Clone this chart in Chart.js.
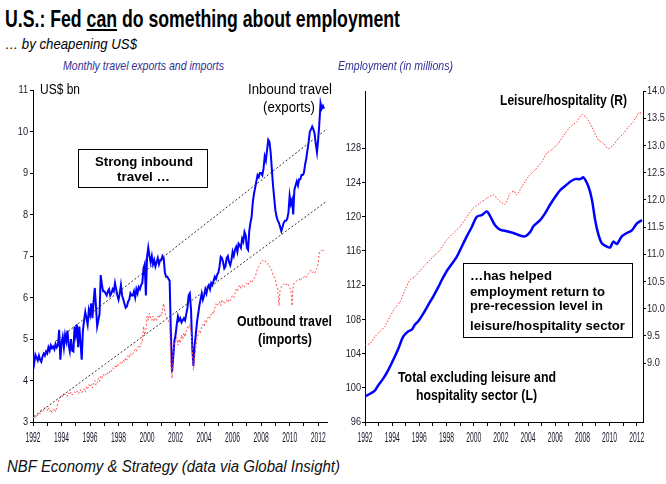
<!DOCTYPE html>
<html><head><meta charset="utf-8">
<script src="https://cdn.jsdelivr.net/npm/chart.js@4.4.0/dist/chart.umd.min.js"></script>
<style>
body{margin:0;width:666px;height:484px;background:#fff;position:relative;overflow:hidden;font-family:'Liberation Sans',Arial,sans-serif;color:#000;}
.t{position:absolute;white-space:nowrap;line-height:1;transform-origin:0 0;}
.n{font-family:'Liberation Sans Narrow','Liberation Sans',Arial,sans-serif;}
.b{font-weight:bold;}
.i{font-style:italic;}
.blue{color:#303096;}
canvas{position:absolute;}
.box{position:absolute;border:1.5px solid #000;box-sizing:border-box;}
</style></head><body>
<canvas id="c1" width="345" height="370" style="left:0px;top:80px"></canvas>
<canvas id="c2" width="326" height="370" style="left:340px;top:80px"></canvas>

<div class="t b" data-w="395" style="left:5px;top:7px;font-size:24px;">U.S.: Fed <u>can</u> do something about employment</div>
<div class="t i" data-w="132" style="left:5px;top:36.5px;font-size:14px;">… by cheapening US$</div>
<div class="t i n blue" data-w="161" style="left:63px;top:59px;font-size:13.5px;">Monthly travel exports and imports</div>
<div class="t i n blue" data-w="115" style="left:338px;top:59px;font-size:13.5px;">Employment (in millions)</div>
<div class="t i" data-w="333" style="left:7px;top:458.5px;font-size:16px;color:#111;">NBF Economy &amp; Strategy (data via Global Insight)</div>

<div class="t n" data-w="40" style="left:40px;top:82px;font-size:14px;">US$ bn</div>
<div class="t n" data-w="84" data-c="290" style="top:81.5px;font-size:14px;">Inbound travel</div>
<div class="t n" data-w="52" data-c="289" style="top:99.5px;font-size:14px;">(exports)</div>
<div class="box" style="left:78px;top:149px;width:130px;height:39px;"></div>
<div class="t b" data-w="98" data-c="144" style="top:155px;font-size:13px;">Strong inbound</div>
<div class="t b" data-w="53" data-c="143.5" style="top:170px;font-size:13px;">travel …</div>
<div class="t n b" data-w="95" data-c="284.5" style="top:313px;font-size:15px;">Outbound travel</div>
<div class="t n b" data-w="54" data-c="285" style="top:331px;font-size:15px;">(imports)</div>

<div class="t n b" data-w="127" style="left:500px;top:92px;font-size:15px;">Leisure/hospitality (R)</div>
<div class="box" style="left:463px;top:263px;width:170px;height:75px;"></div>
<div class="t b" data-w="82" style="left:470px;top:269.2px;font-size:13px;">…has helped</div>
<div class="t b" data-w="135" style="left:470px;top:284.5px;font-size:13px;">employment return to</div>
<div class="t b" data-w="133" style="left:470px;top:298.5px;font-size:13px;">pre-recession level in</div>
<div class="t b" data-w="155" style="left:470px;top:319.2px;font-size:13px;">leisure/hospitality sector</div>
<div class="t n b" data-w="158" style="left:398px;top:370px;font-size:14px;">Total excluding leisure and</div>
<div class="t n b" data-w="121" style="left:416px;top:388px;font-size:14px;">hospitality sector (L)</div>

<script>
// ---------- DATA ----------
const travelStartYear = 1992; // monthly series starting Jan 1992
const inboundTravel = [
4.6,4.42,4.62,4.55,4.48,4.6,4.5,4.45,4.58,4.65,4.6,4.7,
4.65,4.8,4.72,4.85,4.78,4.82,4.75,4.88,4.8,4.85,5.22,4.5,
4.9,5.05,4.8,5.1,4.95,5.2,4.85,4.7,5.0,4.72,4.7,5.3,
5.1,5.35,4.8,5.3,4.9,4.5,5.2,5.45,5.65,5.5,5.35,5.7,
5.58,5.86,5.5,5.9,6.23,5.78,5.3,5.45,5.6,6.54,6.3,6.15,
6.15,6.1,6.05,6.15,6.2,6.05,6.1,6.2,6.15,6.35,6.2,6.05,
5.95,6.1,6.3,6.05,5.95,5.85,5.75,5.78,5.9,5.95,6.1,6.05,
6.05,6.15,6.0,6.2,6.1,6.25,6.2,6.3,6.35,6.7,6.8,6.05,
6.98,7.2,7.0,6.85,7.0,6.8,6.9,6.75,6.85,6.95,6.8,6.9,
6.9,7.0,6.95,6.6,6.5,6.5,6.45,6.4,5.2,4.2,4.55,4.95,
5.1,5.35,5.55,5.45,5.5,5.4,5.45,5.5,5.45,5.6,5.75,6.05,
6.1,5.7,4.8,4.35,4.85,5.1,5.4,5.6,5.8,5.95,6.1,5.95,
6.05,6.2,6.1,6.25,6.3,6.2,6.35,6.3,6.4,6.5,6.45,6.55,
6.6,6.75,6.98,6.95,6.85,6.7,6.75,6.95,7.0,6.85,6.78,6.9,
7.1,7.0,7.15,7.22,7.1,7.3,7.26,7.2,7.42,7.35,7.58,7.5,
7.2,7.15,7.6,7.8,7.95,8.3,8.5,8.65,8.8,8.95,8.9,9.0,
9.0,8.95,9.1,9.4,9.3,9.55,9.8,9.75,9.5,9.1,8.7,8.4,
8.1,7.95,7.85,7.8,7.7,7.6,7.7,7.8,7.85,7.85,7.9,8.05,
8.45,8.25,8.35,8.0,8.6,8.7,8.8,8.7,8.85,8.85,8.95,8.95,
9.0,9.2,9.35,9.55,9.75,10.0,10.05,10.12,10.05,9.95,9.7,9.5,
9.8,10.2,10.68,10.55,10.62,10.55
];
const outboundTravel = [
3.08,3.12,3.1,3.18,3.15,3.22,3.2,3.3,3.25,3.28,3.35,3.3,
3.28,3.35,3.25,3.3,3.22,3.28,3.32,3.25,3.35,3.45,3.55,3.6,
3.65,3.6,3.7,3.65,3.68,3.62,3.7,3.66,3.72,3.65,3.7,3.72,
3.7,3.75,3.68,3.72,3.78,3.7,3.75,3.8,3.72,3.85,3.8,3.9,
3.85,3.9,3.82,3.95,4.0,3.88,3.95,4.05,3.98,4.1,4.05,4.15,
4.1,4.15,4.12,4.2,4.18,4.25,4.22,4.3,4.28,4.35,4.3,4.4,
4.35,4.4,4.45,4.42,4.5,4.45,4.55,4.5,4.6,4.55,4.65,4.6,
4.65,4.7,4.75,4.7,4.8,4.85,4.8,4.9,4.95,5.3,5.1,5.2,
5.55,5.45,5.62,5.5,5.45,5.55,5.42,5.5,5.45,5.55,5.5,5.6,
5.55,5.7,5.85,5.65,5.55,5.5,5.45,5.35,4.45,4.05,4.7,4.9,
4.95,5.05,4.85,5.0,4.9,5.1,5.0,5.15,5.05,5.2,5.3,5.25,
5.35,5.2,4.8,4.25,4.55,4.8,5.0,5.1,5.2,5.15,5.3,5.35,
5.3,5.45,5.4,5.5,5.55,5.5,5.6,5.65,5.6,5.75,5.85,5.8,
5.85,5.9,5.8,5.95,5.9,5.85,5.9,5.95,5.88,5.95,5.92,6.0,
6.05,6.0,6.1,6.2,6.15,6.25,6.3,6.22,6.28,6.3,6.25,6.32,
6.35,6.3,6.38,6.4,6.35,6.42,6.45,6.5,6.6,6.7,6.75,6.8,
6.85,6.9,6.88,6.9,6.85,6.8,6.82,6.75,6.7,6.65,6.55,6.5,
6.45,6.3,6.2,5.8,6.2,6.25,6.3,6.32,6.35,6.3,6.34,6.3,
6.22,6.2,5.8,6.3,6.35,6.38,6.4,6.42,6.45,6.4,6.46,6.45,
6.5,6.52,6.48,6.55,6.58,6.6,6.66,6.6,6.62,6.58,6.65,6.7,
6.82,7.1,7.12,7.14,7.1,7.14
];
const trendUpperYears = [1993.6, 2012.75];
const trendUpperValues = [4.95, 10.1];
const trendLowerYears = [1992.05, 2012.72];
const trendLowerValues = [3.13, 8.35];

const totalExLeisureYears = [1992.0,1992.37,1992.74,1992.98,1993.35,1993.72,1994.09,1994.46,1994.82,1995.19,1995.44,1995.68,1995.93,1996.3,1996.66,1997.03,1997.4,1997.65,1998.0,1998.4,1998.75,1999.0,1999.49,1999.86,2000.23,2000.6,2000.96,2001.2,2001.57,2001.94,2002.43,2002.92,2003.4,2003.78,2004.15,2004.4,2004.89,2005.25,2005.62,2005.99,2006.36,2006.73,2007.1,2007.46,2007.83,2008.08,2008.45,2008.7,2008.94,2009.18,2009.43,2009.8,2010.04,2010.28,2010.53,2010.9,2011.27,2011.64,2012.0,2012.38];
const totalExLeisure = [99.0,99.3,99.7,100.3,101.1,102.1,103.3,104.6,106.0,106.6,106.8,107.4,107.8,108.7,109.7,110.7,111.8,112.6,113.6,114.5,115.3,116.1,117.7,118.8,120.0,120.2,120.6,120.1,119.0,118.5,118.3,118.1,117.8,117.7,118.2,118.9,119.6,120.4,121.4,122.3,123.1,123.6,124.1,124.4,124.4,124.6,123.5,122.0,119.6,117.9,116.9,116.5,116.4,117.1,116.8,117.7,118.1,118.4,119.2,119.6];
const leisureYears = [1992.0,1992.37,1992.74,1993.1,1993.47,1993.84,1994.2,1994.58,1994.95,1995.3,1995.68,1996.05,1996.42,1996.79,1997.15,1997.5,1998.0,1998.5,1999.0,1999.49,1999.97,2000.47,2000.96,2001.45,2001.8,2002.31,2002.68,2002.97,2003.17,2003.54,2004.03,2004.52,2005.01,2005.38,2005.75,2006.23,2006.73,2007.1,2007.59,2007.96,2008.33,2008.7,2009.18,2009.55,2009.9,2010.28,2010.65,2011.02,2011.39,2011.76,2012.13,2012.38];
const leisureHospitality = [9.34,9.36,9.49,9.58,9.68,9.86,10.01,10.13,10.35,10.53,10.59,10.70,10.8,10.9,10.99,11.07,11.26,11.39,11.51,11.69,11.85,11.94,12.03,12.09,12.0,11.92,12.12,12.16,12.09,12.24,12.43,12.55,12.70,12.86,12.92,13.04,13.22,13.34,13.44,13.57,13.5,13.34,13.1,13.04,12.94,13.01,13.13,13.22,13.34,13.44,13.59,13.6];

const travelYTicks = [3,4,5,6,7,8,9,10,11];
const empLeftTickMax = 128;
const empRightTickMin = 9.0;
// ---------- END DATA ----------

// text fitting
document.querySelectorAll('.t[data-w]').forEach(el => {
  const w = +el.dataset.w;
  const r = el.getBoundingClientRect().width;
  if (el.dataset.c) el.style.left = (+el.dataset.c - w / 2) + 'px';
  el.style.transform = 'scaleX(' + (w / r) + ')';
});

const monthly = arr => arr.map((v, i) => ({x: travelStartYear + i / 12, y: v}));
const pairs = (xs, ys) => xs.map((x, i) => ({x: x, y: ys[i]}));

// horizontally condensed tick labels (the original uses very narrow digits)
const squeeze = {x: 0.45, y: 0.8};
const squeezePlugin = {
  id: 'squeeze',
  beforeDraw(chart) {
    Object.values(chart.scales).forEach(scale => {
      if (scale._sqz) return;
      scale._sqz = true;
      const sx = scale.axis === 'x' ? squeeze.x : squeeze.y;
      const od = scale.drawLabels.bind(scale);
      scale.drawLabels = function (area) {
        const ctx = chart.ctx;
        const of = CanvasRenderingContext2D.prototype.fillText;
        ctx.fillText = function (t, x, y, mw) {
          this.save(); this.scale(sx, 1);
          if (mw == null) of.call(this, t, x / sx, y); else of.call(this, t, x / sx, y, mw / sx);
          this.restore();
        };
        try { od(area); } finally { delete ctx.fillText; }
      };
    });
  }
};

const xFont = {family: "'Liberation Sans',Arial,sans-serif", size: 15};
const yFont = {family: "'Liberation Sans',Arial,sans-serif", size: 11.5};
const tickColor = '#1a1a2a';
const gridTicksOnly = (len) => ({display: true, drawOnChartArea: false, drawTicks: true, tickLength: len, color: '#000', lineWidth: 1});
const border = {display: true, color: '#000', width: 1};

const xScale = (max) => ({
  type: 'linear', min: 1992, max: max,
  border: border, grid: gridTicksOnly(4),
  ticks: {stepSize: 1, autoSkip: false, maxRotation: 0, minRotation: 0, includeBounds: false, padding: 3,
    font: xFont, color: tickColor,
    callback: v => (Math.round(v) % 2 === 0 ? String(Math.round(v)) : '')},
  afterFit: s => { s.height = 28; }
});

const commonOpts = {
  responsive: false, animation: false, devicePixelRatio: 1,
  plugins: {legend: {display: false}, tooltip: {enabled: false}},
  elements: {point: {radius: 0}},
};

new Chart(document.getElementById('c1'), {
  type: 'line',
  plugins: [squeezePlugin],
  data: {datasets: [
    {data: pairs(trendUpperYears, trendUpperValues), borderColor: '#333', borderWidth: 1, borderDash: [2, 2], fill: false},
    {data: pairs(trendLowerYears, trendLowerValues), borderColor: '#333', borderWidth: 1, borderDash: [2, 2], fill: false},
    {data: monthly(outboundTravel), borderColor: '#ff4d4d', borderWidth: 1, borderDash: [2, 2], fill: false},
    {data: monthly(inboundTravel), borderColor: '#0000ff', borderWidth: 2, fill: false},
  ]},
  options: Object.assign({}, commonOpts, {
    layout: {padding: {top: 10, right: 18, left: 0, bottom: 0}},
    scales: {
      x: xScale(2012.62),
      y: {type: 'linear', min: travelYTicks[0], max: travelYTicks[travelYTicks.length - 1],
        border: border, grid: gridTicksOnly(3),
        ticks: {stepSize: 1, padding: 2, font: yFont, color: tickColor},
        afterFit: s => { s.width = 33; }}
    }
  })
});

new Chart(document.getElementById('c2'), {
  type: 'line',
  plugins: [squeezePlugin],
  data: {datasets: [
    {data: pairs(leisureYears, leisureHospitality), yAxisID: 'y2', borderColor: '#ff3b3b', borderWidth: 1, borderDash: [1.5, 1.5], fill: false, tension: 0.2},
    {data: pairs(totalExLeisureYears, totalExLeisure), yAxisID: 'y', borderColor: '#0000ff', borderWidth: 2.5, fill: false, tension: 0.3},
  ]},
  options: Object.assign({}, commonOpts, {
    layout: {padding: {top: 11, right: 0, left: 0, bottom: 0}},
    scales: {
      x: xScale(2012.46),
      y: {type: 'linear', position: 'left', min: 96, max: 134.7,
        border: border, grid: gridTicksOnly(3),
        ticks: {stepSize: 4, includeBounds: false, padding: 1, font: yFont, color: tickColor},
        afterBuildTicks: s => { s.ticks = s.ticks.filter(t => t.value <= empLeftTickMax); },
        afterFit: s => { s.width = 25; }},
      y2: {type: 'linear', position: 'right', min: 7.92, max: 14.0,
        border: border, grid: gridTicksOnly(3),
        ticks: {stepSize: 0.5, includeBounds: false, padding: 1, font: yFont, color: tickColor,
          callback: v => v.toFixed(1)},
        afterBuildTicks: s => { s.ticks = s.ticks.filter(t => t.value >= empRightTickMin - 1e-9); },
        afterFit: s => { s.width = 23; }}
    }
  })
});
</script>
</body></html>
